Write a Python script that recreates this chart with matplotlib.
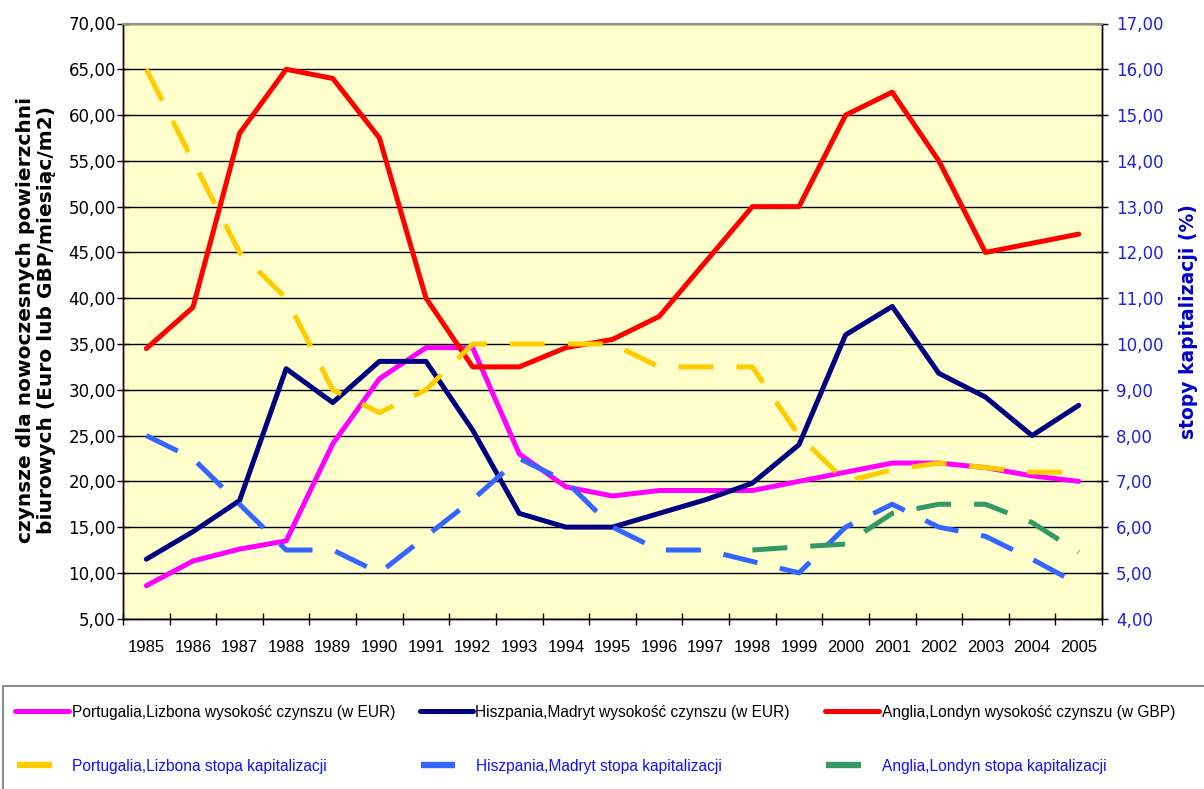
import numpy as np
import matplotlib
matplotlib.use("Agg")
import matplotlib.pyplot as plt
from matplotlib import font_manager
from matplotlib.lines import Line2D
from matplotlib.patches import Rectangle
from matplotlib.ticker import FuncFormatter

# ---------------- data ----------------
years = [str(y) for y in range(1985, 2006)]
lis_rent = [8.6, 11.3, 12.6, 13.5, 24.1, 31.2, 34.6, 34.6, 23.0, 19.4, 18.4,
            19.0, 19.0, 19.0, 20.0, 21.0, 22.0, 22.0, 21.5, 20.6, 20.0]
mad_rent = [11.5, 14.5, 17.9, 32.3, 28.6, 33.1, 33.1, 25.6, 16.5, 15.0, 15.0,
            16.5, 18.0, 19.8, 24.0, 36.0, 39.1, 31.8, 29.2, 25.0, 28.3]
lon_rent = [34.5, 39.0, 58.0, 65.0, 64.0, 57.5, 40.0, 32.5, 32.5, 34.6, 35.5,
            38.0, 44.0, 50.0, 50.0, 60.0, 62.5, 55.0, 45.0, 46.0, 47.0]
lis_cap = [16.0, 14.0, 12.0, 11.0, 9.0, 8.5, 9.0, 10.0, 10.0, 10.0, 10.0,
           9.5, 9.5, 9.5, 8.0, 7.0, 7.25, 7.4, 7.3, 7.2, 7.2]
mad_cap = [8.0, 7.5, 6.5, 5.5, 5.5, 5.0, 5.8, 6.6, 7.5, 7.0, 6.0,
           5.5, 5.5, 5.25, 5.0, 6.0, 6.5, 6.0, 5.8, 5.3, 4.75]
lon_cap = [np.nan] * 13 + [5.5, 5.57, 5.63, 6.3, 6.5, 6.5, 6.1, 5.45]

rent_labels = ["Portugalia,Lizbona wysokość czynszu (w EUR)",
               "Hiszpania,Madryt wysokość czynszu (w EUR)",
               "Anglia,Londyn wysokość czynszu (w GBP)"]
cap_labels = ["Portugalia,Lizbona stopa kapitalizacji",
              "Hiszpania,Madryt stopa kapitalizacji",
              "Anglia,Londyn stopa kapitalizacji"]
left_label = "czynsze dla nowoczesnych powierzchni\nbiurowych (Euro lub GBP/miesiąc/m2)"
right_label = "stopy kapitalizacji (%)"

rent_colors = ["#FF00FF", "#000080", "#FF0000"]
cap_colors = ["#FFCC00", "#3366FF", "#339966"]

# ---------------- fonts ----------------
names = {f.name for f in font_manager.fontManager.ttflist}
if "Liberation Sans Narrow" in names:
    year_font = dict(family="Liberation Sans Narrow", size=15)
else:
    year_font = dict(family="Liberation Sans", size=12)
leg_font = dict(family="Liberation Sans", size=11.2)

W, H = 1204, 789
fig = plt.figure(figsize=(W / 100, H / 100), dpi=100)
fig.patch.set_facecolor("white")

def fx(x):
    return x / W

def fy(y):
    return 1 - y / H

L, R, T, B = 123, 1102, 23.5, 618.7
ax = fig.add_axes([fx(L), fy(B), fx(R - L), (B - T) / H])
ax.set_facecolor("#FFFFCC")
ax2 = ax.twinx()
ax2.patch.set_visible(False)

x = np.arange(len(years))
lw = 3.6
for vals, c in zip([lis_rent, mad_rent, lon_rent], rent_colors):
    ax.plot(x, vals, color=c, lw=lw, solid_joinstyle="round",
            solid_capstyle="round", zorder=3)
for vals, c in zip([lis_cap, mad_cap, lon_cap], cap_colors):
    ax2.plot(x, vals, color=c, lw=lw, linestyle=(0, (7, 4.6)),
             dash_capstyle="butt", dash_joinstyle="round", zorder=3)

ax.set_xlim(-0.5, len(years) - 0.5)
ax.set_ylim(5, 70)
ax2.set_ylim(4, 17)
ax.set_yticks(np.arange(5, 71, 5))
ax2.set_yticks(np.arange(4, 18, 1))
fmt = FuncFormatter(lambda v, p: f"{v:.2f}".replace(".", ","))
ax.yaxis.set_major_formatter(fmt)
ax2.yaxis.set_major_formatter(fmt)

ax.yaxis.grid(True, color="black", lw=1.0, zorder=1)
ax.set_axisbelow(True)

# x ticks: separators at boundaries, labels at categories
ax.set_xticks(np.arange(-0.5, len(years), 1))
ax.set_xticklabels([])
ax.set_xticks(x, minor=True)
ax.set_xticklabels(years, minor=True, **year_font)
ax.tick_params(axis="x", which="major", direction="inout", length=9, width=1, color="black")
ax.tick_params(axis="x", which="minor", length=0, pad=15)

ax.tick_params(axis="y", direction="inout", length=8, width=1, pad=1, labelsize=12)
for t in ax.get_yticklabels():
    t.set_family("DejaVu Sans")
ax2.tick_params(axis="y", direction="inout", length=8, width=1, pad=6,
                labelsize=12, labelcolor="#2020DD")

for a in (ax, ax2):
    a.spines["top"].set_color("#909090")
    a.spines["top"].set_linewidth(1.5)
    for s in ("left", "right", "bottom"):
        a.spines[s].set_color("black")
        a.spines[s].set_linewidth(1.0)

# axis titles
fig.text(fx(36), fy(320), left_label, rotation=90, ha="center", va="center",
         multialignment="center", fontsize=14.5, fontweight="bold",
         family="DejaVu Sans", color="black", linespacing=1.15)
fig.text(fx(1189), fy(322), right_label, rotation=90, ha="center", va="center",
         fontsize=13.5, fontweight="bold", family="DejaVu Sans", color="#0000CC")

# legend box
fig.add_artist(Rectangle((fx(3), fy(800)), fx(1220 - 3), (800 - 686) / H,
                         transform=fig.transFigure, facecolor="white",
                         edgecolor="#808080", lw=1.3, clip_on=False))
row1_y, row2_y = 711, 765
h1 = [(15, 69), (420, 473), (825, 879)]
t1 = [72, 475, 882]
h2 = [(17, 52), (421, 455), (826, 861)]
t2 = [72, 476, 882]
for (a0, a1), tx, lab, c in zip(h1, t1, rent_labels, rent_colors):
    fig.add_artist(Line2D([fx(a0), fx(a1)], [fy(row1_y)] * 2, transform=fig.transFigure,
                          color=c, lw=3.6, solid_capstyle="round"))
    fig.text(fx(tx), fy(row1_y + 2), lab, ha="left", va="center", color="black", **leg_font)
for (a0, a1), tx, lab, c in zip(h2, t2, cap_labels, cap_colors):
    fig.add_artist(Line2D([fx(a0), fx(a1)], [fy(row2_y)] * 2, transform=fig.transFigure,
                          color=c, lw=4.6, solid_capstyle="butt"))
    fig.text(fx(tx), fy(row2_y + 2), lab, ha="left", va="center", color="#1010FF", **leg_font)

fig.savefig("out.png", dpi=100)
